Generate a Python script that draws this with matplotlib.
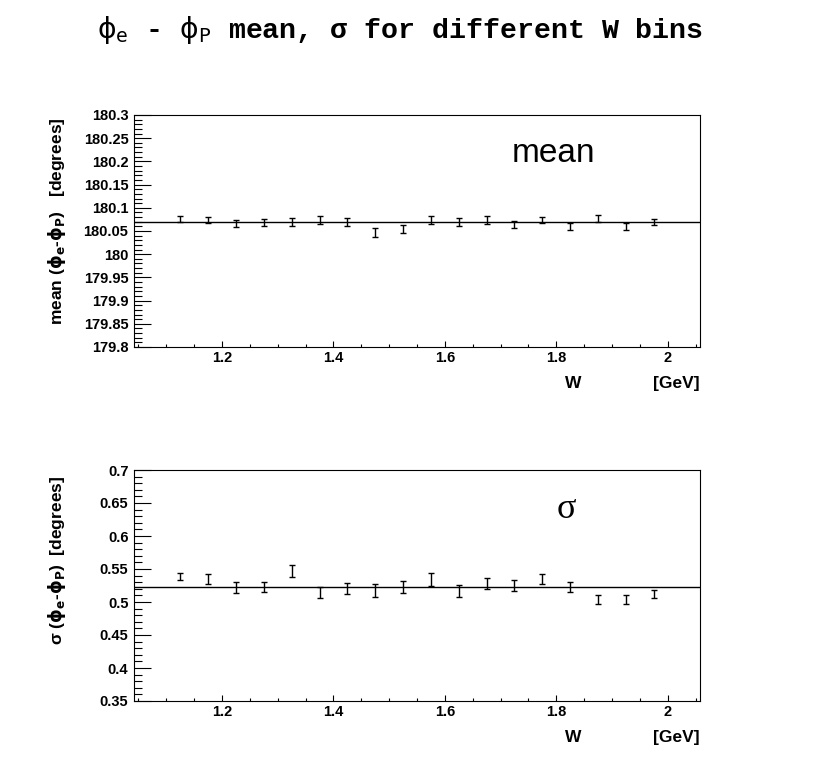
import matplotlib
matplotlib.use("Agg")
import matplotlib.pyplot as plt
from matplotlib.ticker import MultipleLocator, FuncFormatter

# W bin centres
w_bins = [1.125, 1.175, 1.225, 1.275, 1.325, 1.375, 1.425, 1.475, 1.525,
          1.575, 1.625, 1.675, 1.725, 1.775, 1.825, 1.875, 1.925, 1.975]

# mean of phi_e - phi_P per bin
mean_vals = [180.076, 180.073, 180.066, 180.068, 180.069, 180.074, 180.069, 180.047, 180.054,
             180.074, 180.069, 180.074, 180.064, 180.073, 180.060, 180.077, 180.060, 180.069]
mean_errs = [0.0065, 0.0065, 0.008, 0.008, 0.009, 0.008, 0.009, 0.009, 0.009,
             0.009, 0.008, 0.009, 0.008, 0.0065, 0.008, 0.008, 0.008, 0.007]
mean_fit = 180.069

# sigma of phi_e - phi_P per bin
sigma_vals = [0.539, 0.535, 0.5226, 0.523, 0.547, 0.5146, 0.5206, 0.518, 0.523,
              0.5337, 0.5166, 0.528, 0.525, 0.535, 0.5226, 0.5035, 0.5035, 0.5115]
sigma_errs = [0.0055, 0.0073, 0.0083, 0.008, 0.009, 0.0085, 0.0085, 0.0098, 0.009,
              0.0095, 0.0085, 0.009, 0.0085, 0.0073, 0.0073, 0.0068, 0.0068, 0.006]
sigma_fit = 0.5231

W, H = 836, 772
fig = plt.figure(figsize=(W / 100, H / 100), dpi=100)
fig.patch.set_facecolor("white")

tick_font = {"family": "Liberation Sans", "weight": "bold", "size": 10.5}


def fx(px):
    return px / W


def fy(py):
    return 1 - py / H


def setup_axis(ax, ylo, yhi):
    ax.set_xlim(1.042, 2.058)
    ax.set_ylim(ylo, yhi)
    ax.xaxis.set_major_locator(MultipleLocator(0.2))
    ax.xaxis.set_minor_locator(MultipleLocator(0.05))
    ax.yaxis.set_major_locator(MultipleLocator(0.05))
    ax.yaxis.set_minor_locator(MultipleLocator(0.01))
    fmt = FuncFormatter(lambda v, p: f"{round(v, 2):g}")
    ax.xaxis.set_major_formatter(fmt)
    ax.yaxis.set_major_formatter(fmt)
    ax.tick_params(axis="both", which="both", direction="in", top=False, right=False,
                   width=0.8, colors="black")
    ax.tick_params(axis="x", which="major", length=4.5, pad=3)
    ax.tick_params(axis="x", which="minor", length=2.5)
    ax.tick_params(axis="y", which="major", length=12, pad=4)
    ax.tick_params(axis="y", which="minor", length=6)
    for lab in ax.get_xticklabels() + ax.get_yticklabels():
        lab.set_fontproperties(matplotlib.font_manager.FontProperties(**tick_font))
    for s in ax.spines.values():
        s.set_linewidth(0.8)


# top panel: mean
ax1 = fig.add_axes([fx(134), fy(347), fx(700) - fx(134), fy(115) - fy(347)])
ax1.errorbar(w_bins, mean_vals, yerr=mean_errs, fmt="none", ecolor="black",
             elinewidth=1.0, capsize=2, capthick=1.0)
ax1.axhline(mean_fit, color="black", linewidth=1.0)
setup_axis(ax1, 179.8, 180.3)

# bottom panel: sigma
ax2 = fig.add_axes([fx(134), fy(701), fx(700) - fx(134), fy(470) - fy(701)])
ax2.errorbar(w_bins, sigma_vals, yerr=sigma_errs, fmt="none", ecolor="black",
             elinewidth=1.0, capsize=2, capthick=1.0)
ax2.axhline(sigma_fit, color="black", linewidth=1.0)
setup_axis(ax2, 0.35, 0.7)

# title
fig.text(fx(97), fy(38),
         r"$\mathrm{\phi}_{\mathtt{e}}$ - $\mathrm{\phi}_{\mathtt{P}}$ mean, σ for different W bins",
         family=["Liberation Mono", "DejaVu Sans Mono"], weight="bold", size=20.3,
         ha="left", va="baseline")

# panel labels
fig.text(fx(512), fy(162), "mean", family="Liberation Sans", size=24, ha="left", va="baseline")
fig.text(fx(557), fy(518), "σ", family="Liberation Serif", size=26, ha="left", va="baseline")

# axis titles
lab_font = dict(family="Liberation Sans", weight="bold", size=12.5)
for base in (388, 742):
    fig.text(fx(565), fy(base), "W", ha="left", va="baseline", **lab_font)
    fig.text(fx(700), fy(base), "[GeV]", ha="right", va="baseline", **lab_font)

fig.text(fx(57), fy(117), r"mean ($\mathbf{\phi_{e}}$-$\mathbf{\phi_{P}}$)   [degrees]",
         rotation=90, ha="center", va="top", **lab_font)
fig.text(fx(57), fy(476), r"σ ($\mathbf{\phi_{e}}$-$\mathbf{\phi_{P}}$)  [degrees]",
         rotation=90, ha="center", va="top", **lab_font)

fig.savefig("out.png", dpi=100)
